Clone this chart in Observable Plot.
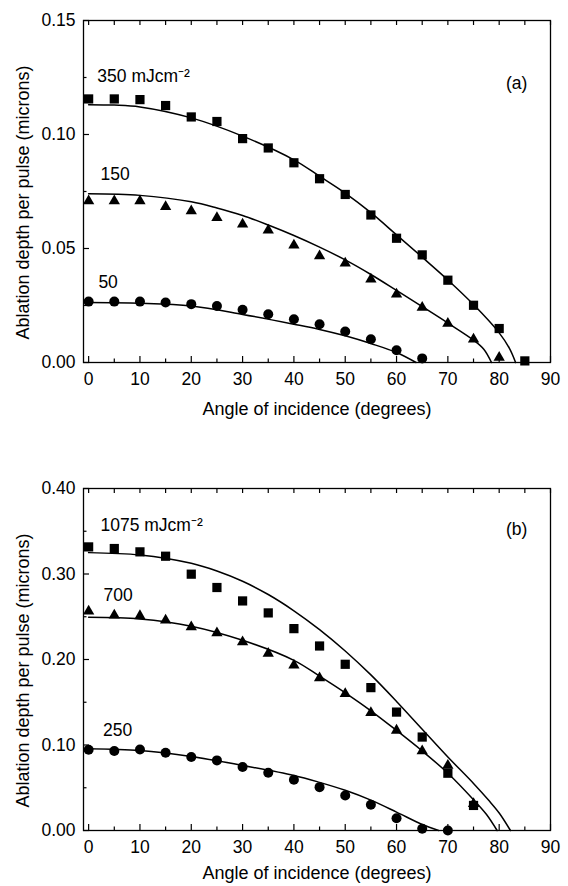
<!DOCTYPE html>
<html>
<head>
<meta charset="utf-8">
<script src="https://cdn.jsdelivr.net/npm/d3@7"></script>
<script src="https://cdn.jsdelivr.net/npm/@observablehq/plot@0.6"></script>
<style>
  html, body { margin: 0; padding: 0; background: #fff; }
  #chart svg { display: block; }
</style>
</head>
<body>
<div id="chart"></div>
<script>
// ---------- data ----------
const angles = [0, 5, 10, 15, 20, 25, 30, 35, 40, 45, 50, 55, 60, 65, 70, 75, 80, 85];

// panel (a)
const sq350  = [0.1156, 0.1156, 0.1153, 0.1127, 0.1077, 0.1057, 0.0982, 0.0941, 0.0876, 0.0806, 0.0737, 0.0647, 0.0545, 0.0472, 0.0361, 0.0251, 0.0149, 0.0007];
const tri150 = [0.0708, 0.0708, 0.0708, 0.0683, 0.0664, 0.0635, 0.0606, 0.0580, 0.0514, 0.0467, 0.0435, 0.0365, 0.0299, 0.0241, 0.0171, 0.0102, 0.0022];
const circ50 = [0.0267, 0.0267, 0.0267, 0.0263, 0.0256, 0.0248, 0.0231, 0.0212, 0.0190, 0.0168, 0.0136, 0.0102, 0.0054, 0.0018];

const fit350Angle = [0, 5, 10, 20, 30, 40, 45, 50, 55, 60, 65, 70, 75, 80, 82, 83.2];
const fit350      = [0.1131, 0.1129, 0.1121, 0.1073, 0.0993, 0.0889, 0.0817, 0.0743, 0.0657, 0.0560, 0.0462, 0.0362, 0.0254, 0.0130, 0.0062, 0];
const fit150Angle = [0, 10, 20, 25, 30, 35, 40, 45, 50, 55, 60, 65, 70, 75, 77, 78.5];
const fit150      = [0.0740, 0.0733, 0.0705, 0.0678, 0.0645, 0.0603, 0.0557, 0.0506, 0.0450, 0.0386, 0.0316, 0.0245, 0.0173, 0.0098, 0.0058, 0];
const fit50Angle  = [0, 10, 20, 30, 40, 45, 50, 55, 60, 63.8];
const fit50       = [0.0263, 0.0260, 0.0248, 0.0211, 0.0168, 0.0145, 0.0117, 0.0083, 0.0044, 0];

// panel (b)
const sq1075  = [0.3317, 0.3298, 0.3259, 0.3208, 0.2998, 0.2842, 0.2685, 0.2545, 0.2361, 0.2158, 0.1944, 0.1671, 0.1385, 0.1093, 0.0670, 0.0293];
const tri700  = [0.2564, 0.2518, 0.2510, 0.2459, 0.2381, 0.2311, 0.2205, 0.2069, 0.1932, 0.1784, 0.1600, 0.1378, 0.1171, 0.0929, 0.0761, 0.0312];
const circ250 = [0.0945, 0.0929, 0.0948, 0.0910, 0.0859, 0.0820, 0.0742, 0.0675, 0.0593, 0.0507, 0.0410, 0.0301, 0.0144, 0.0020, 0.0000];

const fit1075Angle = [0, 10, 20, 25, 30, 35, 40, 45, 50, 55, 60, 65, 70, 75, 78, 80, 82.2];
const fit1075      = [0.325, 0.3222, 0.3125, 0.3035, 0.2915, 0.2760, 0.2570, 0.2350, 0.2100, 0.1820, 0.1510, 0.1185, 0.0860, 0.0550, 0.0350, 0.0205, 0];
const fit700Angle  = [0, 10, 20, 30, 40, 45, 50, 55, 60, 65, 70, 75, 77.5, 79.6];
const fit700       = [0.2495, 0.2475, 0.239, 0.2225, 0.199, 0.1805, 0.161, 0.1400, 0.1170, 0.0930, 0.0670, 0.0360, 0.0190, 0];
const fit250Angle  = [0, 10, 20, 30, 40, 45, 50, 55, 60, 65, 68.2];
const fit250       = [0.0955, 0.0935, 0.0866, 0.0761, 0.0644, 0.0563, 0.0470, 0.0355, 0.0215, 0.0070, 0];

// ticks & labels
const xMajor = [0, 10, 20, 30, 40, 50, 60, 70, 80, 90];
const xMinor = [5, 15, 25, 35, 45, 55, 65, 75, 85];
const yMajorA = [0, 0.05, 0.10, 0.15];
const yMinorA = [0.025, 0.075, 0.125];
const yMajorB = [0, 0.10, 0.20, 0.30, 0.40];
const yMinorB = [0.05, 0.15, 0.25, 0.35];

const xTitle = "Angle of incidence (degrees)";
const yTitle = "Ablation depth per pulse (microns)";

const labelsA = [
  {angle: 1.7, depth: 0.1255, text: "350 mJcm\u207B\u00B2"},
  {angle: 2.3, depth: 0.0824, text: "150"},
  {angle: 1.9, depth: 0.0350, text: "50"}
];
const tagA = [{angle: 83.4, depth: 0.1225, text: "(a)"}];
const labelsB = [
  {angle: 2.3, depth: 0.357, text: "1075 mJcm\u207B\u00B2"},
  {angle: 2.9, depth: 0.275, text: "700"},
  {angle: 2.8, depth: 0.117, text: "250"}
];
const tagB = [{angle: 83.4, depth: 0.352, text: "(b)"}];

// ---------- helpers ----------
const toRows = (xs, ys) => ys.map((v, i) => ({angle: xs[i], depth: v}));
const FONT = "'Liberation Sans', Arial, Helvetica, sans-serif";

function panel(o) {
  return Plot.plot({
    width: 568,
    height: o.height,
    marginLeft: 83,
    marginRight: 18,
    marginTop: o.mt,
    marginBottom: o.mb,
    style: {fontFamily: FONT, background: "white", color: "black", overflow: "visible"},
    x: {domain: [-1, 90], label: null},
    y: {domain: o.yDomain, label: null},
    marks: [
      // fitted curves
      ...o.fits.map(f => Plot.line(toRows(f[0], f[1]), {x: "angle", y: "depth", curve: "catmull-rom", stroke: "black", strokeWidth: 1.5})),
      // data points
      Plot.dot(toRows(angles, o.sq),   {x: "angle", y: "depth", symbol: "square",   r: 5.2, fill: "black"}),
      Plot.dot(toRows(angles, o.tri),  {x: "angle", y: "depth", symbol: "triangle", r: 4.2, fill: "black"}),
      Plot.dot(toRows(angles, o.circ), {x: "angle", y: "depth", symbol: "circle",   r: 5.0, fill: "black"}),
      // frame
      Plot.frame({stroke: "black", strokeWidth: 1.3}),
      // inward ticks
      Plot.axisX({ticks: xMajor, tickSize: -6, fill: "none", label: null, strokeWidth: 1.2}),
      Plot.axisX({ticks: xMinor, tickSize: -3.5, fill: "none", label: null, strokeWidth: 1.2}),
      Plot.axisX({anchor: "top", ticks: [...xMajor, ...xMinor], tickSize: -4, fill: "none", label: null, strokeWidth: 1.2}),
      Plot.axisY({ticks: o.yMajor, tickSize: -6, fill: "none", label: null, strokeWidth: 1.2}),
      Plot.axisY({ticks: o.yMinor, tickSize: -3.5, fill: "none", label: null, strokeWidth: 1.2}),
      // tick labels
      Plot.axisX({ticks: xMajor, tickSize: 0, tickPadding: 10, fontSize: 17.5, label: null, tickFormat: d3.format("d")}),
      Plot.axisY({ticks: o.yMajor, tickSize: 0, tickPadding: 8, fontSize: 17.5, label: null, tickFormat: d3.format(".2f")}),
      // axis titles
      Plot.text([xTitle], {text: d => d, frameAnchor: "bottom", dy: o.titleDy, fontSize: 18, lineAnchor: "middle", fill: "black"}),
      Plot.text([yTitle], {text: d => d, frameAnchor: "left", rotate: -90, dx: -60, dy: 11, fontSize: 18, textAnchor: "middle", lineAnchor: "middle", fill: "black"}),
      // annotations
      Plot.text(o.labels, {x: "angle", y: "depth", text: "text", textAnchor: "start", lineAnchor: "middle", fontSize: 17.5, fill: "black"}),
      Plot.text(o.tag, {x: "angle", y: "depth", text: "text", textAnchor: "middle", lineAnchor: "middle", fontSize: 17.5, fill: "black"})
    ]
  });
}

const chart = document.getElementById("chart");
chart.append(panel({
  height: 422, mt: 20, mb: 60, yDomain: [0, 0.15], titleDy: 47,
  yMajor: yMajorA, yMinor: yMinorA,
  sq: sq350, tri: tri150, circ: circ50,
  fits: [[fit350Angle, fit350], [fit150Angle, fit150], [fit50Angle, fit50]],
  labels: labelsA, tag: tagA
}));
chart.append(panel({
  height: 464, mt: 66, mb: 56, yDomain: [0, 0.40], titleDy: 43,
  yMajor: yMajorB, yMinor: yMinorB,
  sq: sq1075, tri: tri700, circ: circ250,
  fits: [[fit1075Angle, fit1075], [fit700Angle, fit700], [fit250Angle, fit250]],
  labels: labelsB, tag: tagB
}));
</script>
</body>
</html>
